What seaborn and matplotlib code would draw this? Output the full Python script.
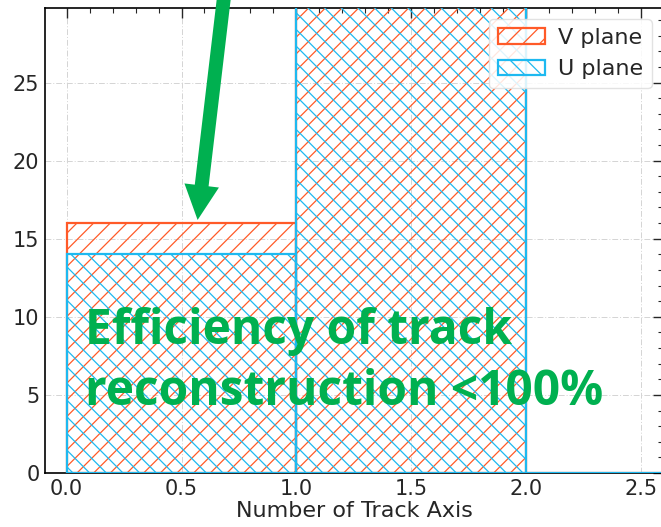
import matplotlib
matplotlib.use("Agg")
import matplotlib.pyplot as plt
import seaborn as sns
import numpy as np
import pandas as pd
from matplotlib.patches import Patch
from matplotlib.ticker import MultipleLocator

# ---- data ----
bin_edges = [0, 1, 2, 3]
bin_centers = [0.5, 1.5, 2.5]
v_counts = [16, 34, 0]
u_counts = [14, 36, 0]
series_names = ["V plane", "U plane"]
xtick_vals = [0.0, 0.5, 1.0, 1.5, 2.0, 2.5]
ytick_vals = [0, 5, 10, 15, 20, 25]
annot_text = "Efficiency of track\nreconstruction <100%"

V_COLOR = "#FF5A28"
U_COLOR = "#1EB9F0"
GREEN = "#00B050"

sns.set_style("white")
plt.rcParams["font.family"] = ["DejaVu Sans"]
plt.rcParams["hatch.linewidth"] = 0.9

W, H = 661, 527
fig = plt.figure(figsize=(W / 100, H / 100), dpi=100)
ax = fig.add_axes([45 / W, 54 / H, 618 / W, 465 / H])

styles = [(V_COLOR, "//"), (U_COLOR, "\\\\")]
for (counts, name, (col, hatch)) in zip([v_counts, u_counts], series_names, styles):
    n_before = len(ax.patches)
    sns.histplot(x=bin_centers, weights=counts, bins=bin_edges, element="bars",
                 fill=False, color=col, ax=ax, linewidth=1.6)
    for p in ax.patches[n_before:]:
        p.set_hatch(hatch)
        p.set_edgecolor(col)
        p.set_linewidth(1.6)
        p.set_zorder(3)

ax.set_xlim(-0.094, 2.595)
ax.set_ylim(0, 29.77)
ax.set_xticks(xtick_vals)
ax.set_yticks(ytick_vals)
ax.xaxis.set_minor_locator(MultipleLocator(0.1))
ax.yaxis.set_minor_locator(MultipleLocator(1))
ax.tick_params(which="both", direction="in", top=True, right=True)
ax.tick_params(which="major", length=7, width=1.0, labelsize=15, pad=4)
ax.tick_params(which="minor", length=3.5, width=0.8)
ax.set_axisbelow(True)
ax.grid(True, which="major", color="#d4d4d4", linestyle=(0, (6, 2, 1, 2)), linewidth=0.7)
for s in ax.spines.values():
    s.set_color("black")
    s.set_linewidth(1.2)
ax.set_xlabel("Number of Track Axis", fontsize=16, labelpad=2)
ax.set_ylabel("")

handles = [Patch(facecolor="none", edgecolor=c, hatch=h, linewidth=1.6) for c, h in styles]
leg = ax.legend(handles, series_names, loc="upper right", fontsize=16,
                handlelength=2.1, handletextpad=0.6, framealpha=0.85,
                edgecolor="#dddddd", fancybox=True)
leg.set_zorder(5)

ax.annotate("", xy=(0.570, 16.2), xytext=(0.689, 31.0), xycoords="data",
            arrowprops=dict(facecolor=GREEN, edgecolor="none", width=10,
                            headwidth=25, headlength=25, shrink=0),
            annotation_clip=False)

ax.text(0.08, 10.6, annot_text, fontsize=34.5, fontweight="bold", color=GREEN,
        family=["Open Sans", "DejaVu Sans"], va="top", ha="left", linespacing=1.3,
        transform=ax.transData, zorder=6)

fig.savefig("out.png", dpi=100)
